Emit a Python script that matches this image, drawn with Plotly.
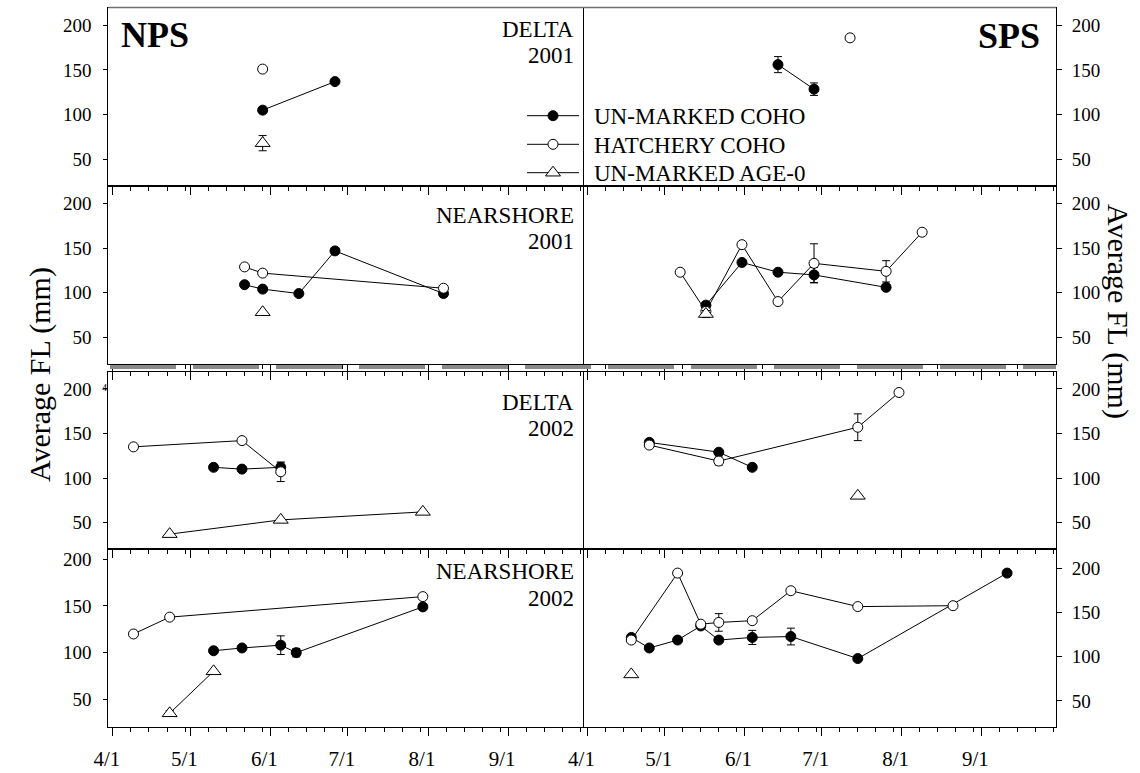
import plotly.graph_objects as go

W, H = 1140, 773
FONT = "Liberation Serif"
YEAR = "2001"  # common display year (axes show month/day only)

MONTH_TICKS = ["04-01", "05-01", "06-01", "07-01", "08-01", "09-01"]
MONTH_LABELS = ["4/1", "5/1", "6/1", "7/1", "8/1", "9/1"]
WEEK_DAYS = [8, 15, 22, 29]
Y_TICKS = [50, 100, 150, 200]

# ---------------- data (date MM-DD, mean fork length mm, error) ----------------
# NPS  DELTA 2001
nps_d01_un_dates = ["05-29", "06-26"]
nps_d01_un_fl = [105, 137]
nps_d01_un_err = [0, 0]
nps_d01_hat_dates = ["05-29"]
nps_d01_hat_fl = [151]
nps_d01_hat_err = [0]
nps_d01_age0_dates = ["05-29"]
nps_d01_age0_fl = [68]
nps_d01_age0_err = [8.5]

# SPS  DELTA 2001
sps_d01_un_dates = ["06-14", "06-28"]
sps_d01_un_fl = [156, 128.5]
sps_d01_un_err = [9, 7]
sps_d01_hat_dates = ["07-12"]
sps_d01_hat_fl = [186]
sps_d01_hat_err = [0]
sps_d01_age0_dates = []
sps_d01_age0_fl = []
sps_d01_age0_err = []

# NPS  NEARSHORE 2001
nps_n01_un_dates = ["05-22", "05-29", "06-12", "06-26", "08-07"]
nps_n01_un_fl = [109, 104, 99, 147, 99]
nps_n01_un_err = [0, 0, 0, 0, 0]
nps_n01_hat_dates = ["05-22", "05-29", "08-07"]
nps_n01_hat_fl = [129, 122, 105]
nps_n01_hat_err = [0, 0, 0]
nps_n01_age0_dates = ["05-29"]
nps_n01_age0_fl = [78]
nps_n01_age0_err = [0]

# SPS  NEARSHORE 2001
sps_n01_un_dates = ["05-17", "05-31", "06-14", "06-28", "07-26"]
sps_n01_un_fl = [86, 134, 123, 120, 106]
sps_n01_un_err = [0, 0, 0, 8.5, 0]
sps_n01_hat_dates = ["05-07", "05-17", "05-31", "06-14", "06-28", "07-26", "08-09"]
sps_n01_hat_fl = [123, 79, 154, 90, 133, 124, 168]
sps_n01_hat_err = [0, 0, 0, 0, 22, 12, 0]
sps_n01_age0_dates = ["05-17"]
sps_n01_age0_fl = [76]
sps_n01_age0_err = [4]

# NPS  DELTA 2002
nps_d02_un_dates = ["05-10", "05-21", "06-05"]
nps_d02_un_fl = [112, 110, 112]
nps_d02_un_err = [0, 0, 5]
nps_d02_hat_dates = ["04-09", "05-21", "06-05"]
nps_d02_hat_fl = [135, 142, 107]
nps_d02_hat_err = [0, 0, 11]
nps_d02_age0_dates = ["04-23", "06-05", "07-30"]
nps_d02_age0_fl = [37, 53, 62]
nps_d02_age0_err = [0, 0, 0]

# SPS  DELTA 2002
sps_d02_un_dates = ["04-25", "05-22", "06-04"]
sps_d02_un_fl = [140, 129, 112]
sps_d02_un_err = [0, 0, 0]
sps_d02_hat_dates = ["04-25", "05-22", "07-15", "07-31"]
sps_d02_hat_fl = [137, 119, 157, 196]
sps_d02_hat_err = [0, 4.5, 15, 0]
sps_d02_age0_dates = ["07-15"]
sps_d02_age0_fl = [80]
sps_d02_age0_err = [0]

# NPS  NEARSHORE 2002
nps_n02_un_dates = ["05-10", "05-21", "06-05", "06-11", "07-30"]
nps_n02_un_fl = [102, 105, 108, 100, 149]
nps_n02_un_err = [0, 0, 10, 4.5, 0]
nps_n02_hat_dates = ["04-09", "04-23", "07-30"]
nps_n02_hat_fl = [120, 138, 160]
nps_n02_hat_err = [0, 0, 0]
nps_n02_age0_dates = ["04-23", "05-10"]
nps_n02_age0_fl = [35, 80]
nps_n02_age0_err = [3, 0]

# SPS  NEARSHORE 2002
sps_n02_un_dates = ["04-18", "04-25", "05-06", "05-15", "05-22", "06-04", "06-19", "07-15", "09-11"]
sps_n02_un_fl = [122, 110, 119, 135, 119, 122, 123, 98, 195]
sps_n02_un_err = [0, 0, 0, 0, 0, 8, 9.5, 0, 0]
sps_n02_hat_dates = ["04-18", "05-06", "05-15", "05-22", "06-04", "06-19", "07-15", "08-21"]
sps_n02_hat_fl = [119, 195, 137, 139, 141, 175, 157, 158]
sps_n02_hat_err = [0, 0, 0, 10, 0, 0, 0, 0]
sps_n02_age0_dates = ["04-18"]
sps_n02_age0_fl = [80]
sps_n02_age0_err = [0]

SERIES_NAMES = ["UN-MARKED COHO", "HATCHERY COHO", "UN-MARKED AGE-0"]
REGION_LABELS = [["DELTA", "2001"], ["NEARSHORE", "2001"], ["DELTA", "2002"], ["NEARSHORE", "2002"]]

panels = [
    (0, 0, [(nps_d01_un_dates, nps_d01_un_fl, nps_d01_un_err), (nps_d01_hat_dates, nps_d01_hat_fl, nps_d01_hat_err), (nps_d01_age0_dates, nps_d01_age0_fl, nps_d01_age0_err)]),
    (0, 1, [(sps_d01_un_dates, sps_d01_un_fl, sps_d01_un_err), (sps_d01_hat_dates, sps_d01_hat_fl, sps_d01_hat_err), (sps_d01_age0_dates, sps_d01_age0_fl, sps_d01_age0_err)]),
    (1, 0, [(nps_n01_un_dates, nps_n01_un_fl, nps_n01_un_err), (nps_n01_hat_dates, nps_n01_hat_fl, nps_n01_hat_err), (nps_n01_age0_dates, nps_n01_age0_fl, nps_n01_age0_err)]),
    (1, 1, [(sps_n01_un_dates, sps_n01_un_fl, sps_n01_un_err), (sps_n01_hat_dates, sps_n01_hat_fl, sps_n01_hat_err), (sps_n01_age0_dates, sps_n01_age0_fl, sps_n01_age0_err)]),
    (2, 0, [(nps_d02_un_dates, nps_d02_un_fl, nps_d02_un_err), (nps_d02_hat_dates, nps_d02_hat_fl, nps_d02_hat_err), (nps_d02_age0_dates, nps_d02_age0_fl, nps_d02_age0_err)]),
    (2, 1, [(sps_d02_un_dates, sps_d02_un_fl, sps_d02_un_err), (sps_d02_hat_dates, sps_d02_hat_fl, sps_d02_hat_err), (sps_d02_age0_dates, sps_d02_age0_fl, sps_d02_age0_err)]),
    (3, 0, [(nps_n02_un_dates, nps_n02_un_fl, nps_n02_un_err), (nps_n02_hat_dates, nps_n02_hat_fl, nps_n02_hat_err), (nps_n02_age0_dates, nps_n02_age0_fl, nps_n02_age0_err)]),
    (3, 1, [(sps_n02_un_dates, sps_n02_un_fl, sps_n02_un_err), (sps_n02_hat_dates, sps_n02_hat_fl, sps_n02_hat_err), (sps_n02_age0_dates, sps_n02_age0_fl, sps_n02_age0_err)]),
]

# ---------------- layout geometry (pixels) ----------------
COL_PX = [(108.3, 583.0), (583.0, 1056.0)]
ROW_PX = [(7.5, 186.0), (186.0, 363.8), (372.0, 549.3), (549.3, 727.3)]
Y_RANGES = {(0, 0): [20, 220], (0, 1): [20, 220], (1, 0): [20, 220], (1, 1): [20, 220],
            (2, 0): [20, 219], (2, 1): [20, 219], (3, 0): [20, 210.7], (3, 1): [20, 222]}
X_RANGE = [f"{YEAR}-03-30 06:00", f"{YEAR}-09-30 00:00"]


def d(md):
    return f"{YEAR}-{md}"


minor_vals = [f"{YEAR}-{m:02d}-{day:02d}" for m in range(4, 10) for day in WEEK_DAYS]
major_vals = [d(t) for t in MONTH_TICKS]

MARKERS = [
    dict(symbol="circle", size=10, color="black", line=dict(color="black", width=1)),
    dict(symbol="circle", size=10, color="white", line=dict(color="black", width=1)),
    dict(symbol="triangle-up", size=13, color="white", line=dict(color="black", width=1)),
]

fig = go.Figure()
layout = dict(width=W, height=H, margin=dict(l=0, r=0, t=0, b=0, pad=0),
              paper_bgcolor="white", plot_bgcolor="rgba(0,0,0,0)", showlegend=False,
              font=dict(family=FONT, color="black", size=19))

for i, (r, c, series) in enumerate(panels):
    n = i + 1
    x0, x1 = COL_PX[c]
    y0, y1 = ROW_PX[r]
    layout[f"xaxis{n}"] = dict(
        domain=[x0 / W, x1 / W], anchor=f"y{n}", type="date", range=X_RANGE,
        showline=True, linecolor="black", linewidth=1, mirror=True,
        ticks="outside", ticklen=8, tickwidth=1, tickcolor="black",
        tickmode="array", tickvals=major_vals, ticktext=MONTH_LABELS,
        showticklabels=(r == 3), tickfont=dict(size=21, family=FONT),
        ticklabelstandoff=4, ticklabelshift=-6,
        minor=dict(tickmode="array", tickvals=minor_vals, ticks="outside", ticklen=4,
                   tickcolor="black", tickwidth=1, showgrid=False),
        showgrid=False, zeroline=False, automargin=False, fixedrange=True)
    layout[f"yaxis{n}"] = dict(
        domain=[1 - y1 / H, 1 - y0 / H], anchor=f"x{n}", range=Y_RANGES[(r, c)],
        side="left" if c == 0 else "right",
        showline=True, linecolor="black", linewidth=1, mirror=(c == 0),
        ticks="outside", ticklen=4 if c == 0 else 5, tickwidth=1, tickcolor="black",
        tickmode="array", tickvals=Y_TICKS, tickfont=dict(size=19, family=FONT),
        ticklabelstandoff=8 if c == 0 else 6,
        showgrid=False, zeroline=False, automargin=False, fixedrange=True)
    for k, (dates, fl, err) in enumerate(series):
        if not dates:
            continue
        fig.add_trace(go.Scatter(
            x=[d(t) for t in dates], y=fl, mode="lines+markers",
            xaxis=f"x{n}", yaxis=f"y{n}", name=SERIES_NAMES[k],
            line=dict(color="black", width=1), marker=MARKERS[k],
            error_y=dict(type="data", array=err, visible=True, color="black",
                         thickness=1, width=4),
            cliponaxis=False, hoverinfo="skip"))

# extra top axes for row 3 (ticks hanging down inside the panels)
for n_base, extra in [(5, 11), (6, 12)]:
    base = layout[f"xaxis{n_base}"]
    layout[f"xaxis{extra}"] = dict(
        domain=base["domain"], anchor=f"y{n_base}", overlaying=f"x{n_base}", side="top",
        type="date", range=X_RANGE, showline=False, ticks="inside", ticklen=8,
        tickwidth=1, tickcolor="black", tickmode="array", tickvals=major_vals,
        showticklabels=False,
        minor=dict(tickmode="array", tickvals=minor_vals, ticks="inside", ticklen=4,
                   tickcolor="black", tickwidth=1, showgrid=False),
        showgrid=False, zeroline=False, fixedrange=True)
    fig.add_trace(go.Scatter(x=[], y=[], xaxis=f"x{extra}", yaxis=f"y{n_base}",
                             mode="markers", hoverinfo="skip"))

# full-figure pixel axes for the legend keys
layout["xaxis20"] = dict(domain=[0, 1], anchor="y20", range=[0, W], visible=False, fixedrange=True)
layout["yaxis20"] = dict(domain=[0, 1], anchor="x20", range=[H, 0], visible=False, fixedrange=True)
LEG_X = [527, 579]
LEG_MX = 553
LEG_Y = [115.7, 144.3, 172.7]
LEG_TX = 592
for k in range(3):
    fig.add_trace(go.Scatter(x=LEG_X, y=[LEG_Y[k]] * 2, mode="lines", xaxis="x20", yaxis="y20",
                             line=dict(color="black", width=1), hoverinfo="skip"))
    fig.add_trace(go.Scatter(x=[LEG_MX], y=[LEG_Y[k]], mode="markers", xaxis="x20", yaxis="y20",
                             marker=MARKERS[k], hoverinfo="skip"))

annotations = []


def ann(text, px, py, size, xanchor="center", yanchor="middle", angle=0):
    annotations.append(dict(text=text, x=px / W, y=1 - py / H, xref="paper", yref="paper",
                            xanchor=xanchor, yanchor=yanchor, showarrow=False, textangle=angle,
                            font=dict(family=FONT, size=size, color="black")))


for k in range(3):
    ann(SERIES_NAMES[k], LEG_TX, LEG_Y[k] + 1, 23, xanchor="left")

ann("<b>NPS</b>", 119, 35, 36, xanchor="left")
ann("<b>SPS</b>", 1042, 36, 36, xanchor="right")

LABEL_Y = [(29, 56), (215.5, 242), (402.5, 429), (571.5, 598.5)]
for r, (l1, l2) in enumerate(REGION_LABELS):
    ann(l1, 576, LABEL_Y[r][0], 23, xanchor="right")
    ann(l2, 576, LABEL_Y[r][1], 23, xanchor="right")

ann("Average FL (mm)", 40, 375, 30, angle=-90)
ann("Average FL (mm)", 1118, 311, 30, angle=90)
ann("4", 104, 387, 10)

layout["annotations"] = annotations
layout["shapes"] = [
    dict(type="line", xref="paper", yref="paper", x0=110 / W, x1=1056 / W,
         y0=1 - 367 / H, y1=1 - 367 / H, line=dict(color="#8a8a8a", width=4, dash="66px,17px")),
    dict(type="line", xref="paper", yref="paper", x0=108.3 / W, x1=1056 / W,
         y0=1 - 7.5 / H, y1=1 - 7.5 / H, line=dict(color="#707070", width=1.5)),
]

fig.update_layout(**layout)
fig.write_html("out.html")
